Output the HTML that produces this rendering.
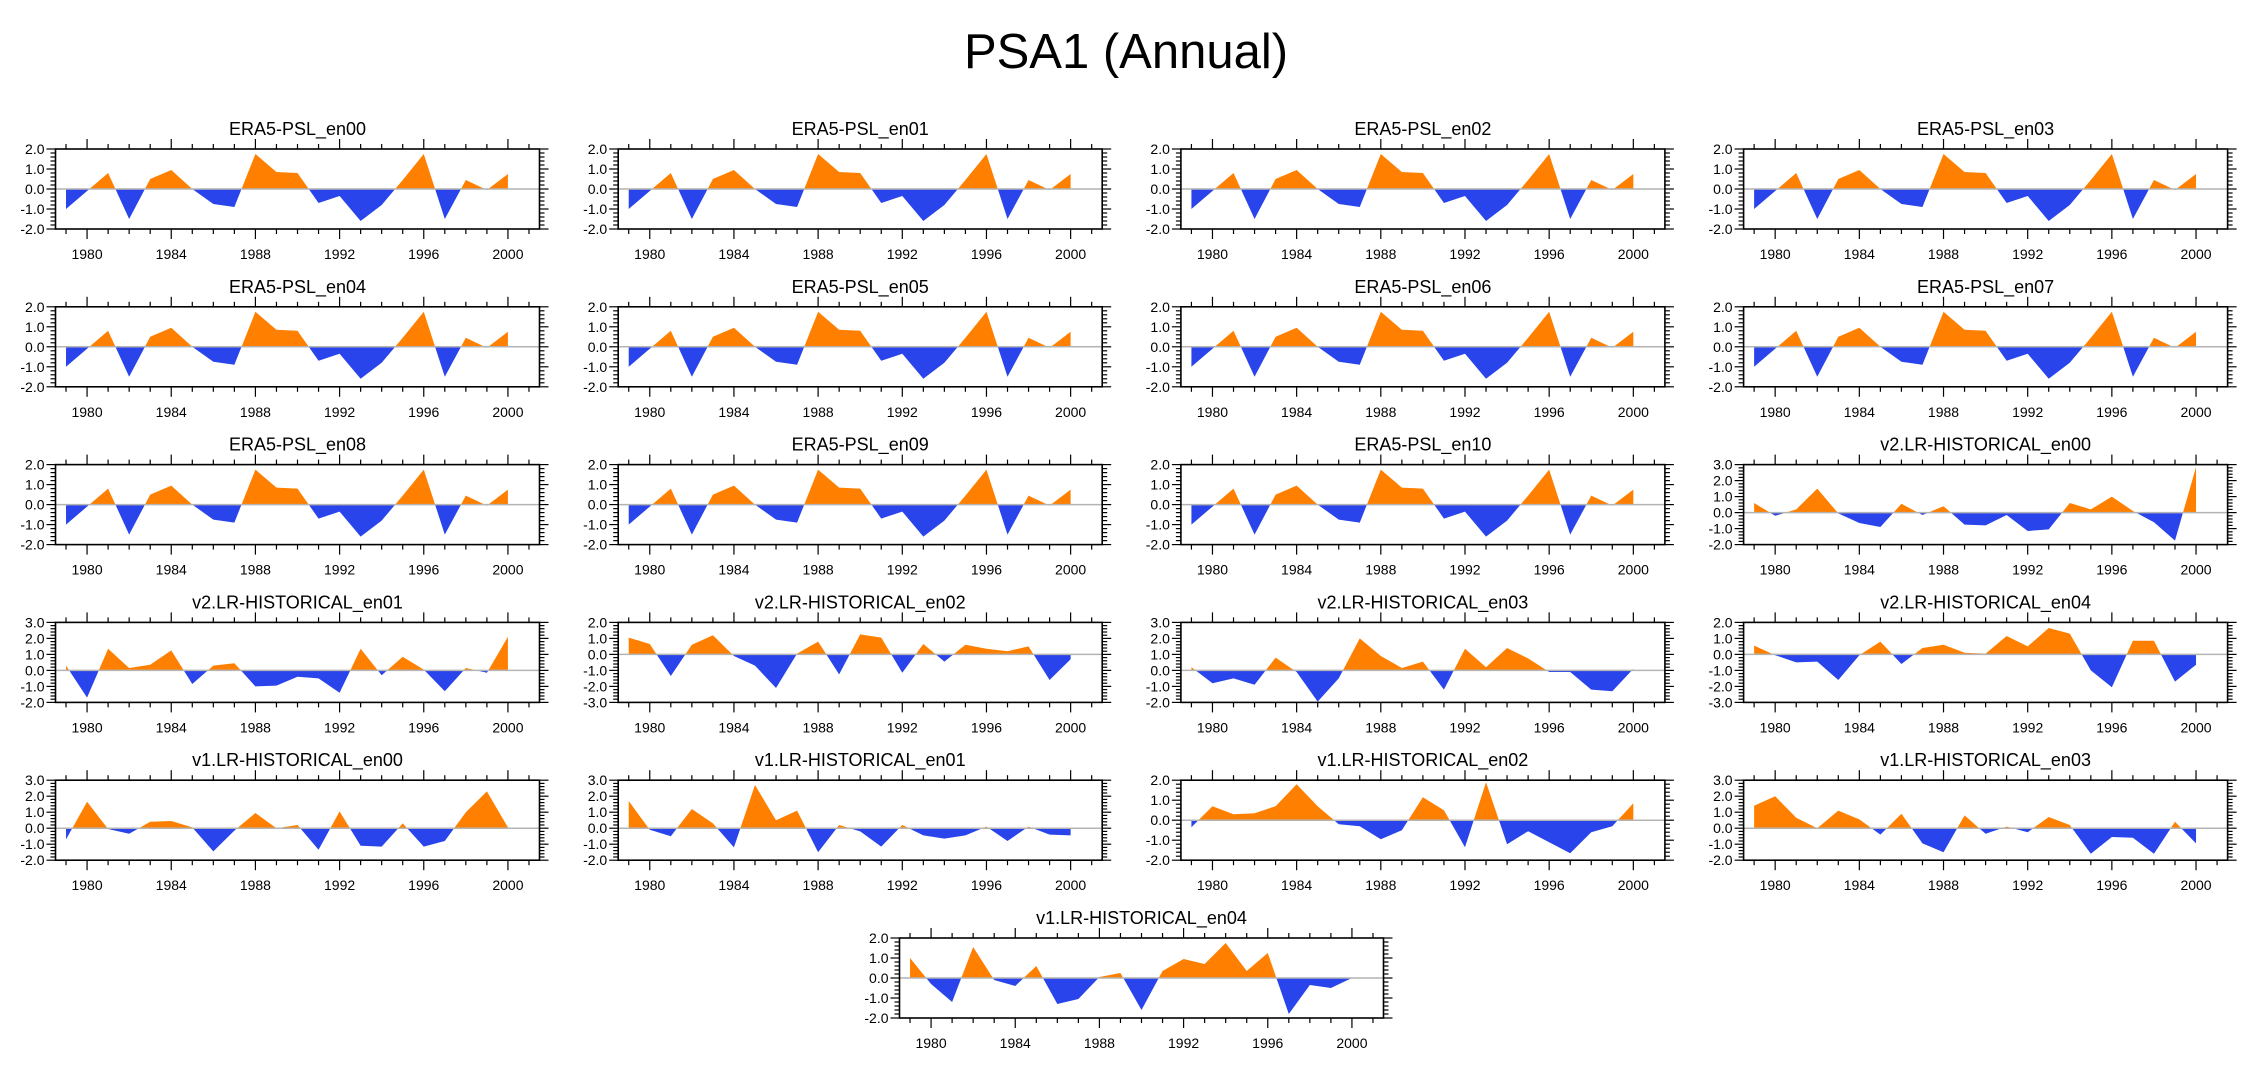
<!DOCTYPE html>
<html><head><meta charset="utf-8"><style>
html,body{margin:0;padding:0;background:#fff;}
svg{display:block;font-family:"Liberation Sans",Arial,sans-serif;}
</style></head><body>
<svg id="fig" width="2252" height="1078" viewBox="0 0 2252 1078">
<text x="1126" y="68" text-anchor="middle" font-size="49" fill="#000">PSA1 (Annual)</text>
</svg>
<script>
const years = [1979,1980,1981,1982,1983,1984,1985,1986,1987,1988,1989,1990,1991,1992,1993,1994,1995,1996,1997,1998,1999,2000];
const xTickLabels = ["1980","1984","1988","1992","1996","2000"];
const era5 = [-1.0,-0.1,0.8,-1.5,0.5,0.95,0.0,-0.75,-0.9,1.75,0.85,0.8,-0.7,-0.35,-1.6,-0.8,0.45,1.75,-1.5,0.45,-0.05,0.75];
const v2en00 = [0.6,-0.2,0.2,1.5,-0.05,-0.65,-0.9,0.55,-0.15,0.4,-0.75,-0.8,-0.15,-1.15,-1.05,0.6,0.2,1.0,0.1,-0.6,-1.75,2.85];
const v2en01 = [0.3,-1.7,1.35,0.15,0.35,1.25,-0.85,0.3,0.45,-1.0,-0.95,-0.4,-0.5,-1.4,1.35,-0.3,0.85,0.05,-1.3,0.15,-0.15,2.1];
const v2en02 = [1.05,0.65,-1.35,0.6,1.2,-0.1,-0.7,-2.1,0.05,0.8,-1.25,1.25,1.05,-1.15,0.65,-0.45,0.6,0.35,0.2,0.5,-1.6,-0.3];
const v2en03 = [0.2,-0.8,-0.5,-0.9,0.8,-0.1,-1.95,-0.5,2.0,0.9,0.15,0.55,-1.2,1.35,0.2,1.4,0.75,-0.1,-0.1,-1.2,-1.3,0.1];
const v2en04 = [0.55,-0.05,-0.5,-0.45,-1.6,-0.05,0.8,-0.6,0.4,0.6,0.1,0.05,1.15,0.5,1.65,1.3,-1.0,-2.05,0.85,0.85,-1.7,-0.65];
const v1en00 = [-0.7,1.65,-0.05,-0.35,0.4,0.45,0.05,-1.45,-0.15,0.95,0.0,0.2,-1.35,1.05,-1.1,-1.15,0.3,-1.15,-0.8,1.0,2.3,0.05];
const v1en01 = [1.7,-0.1,-0.5,1.2,0.3,-1.2,2.7,0.5,1.1,-1.5,0.2,-0.2,-1.15,0.2,-0.45,-0.65,-0.45,0.1,-0.8,0.1,-0.4,-0.45];
const v1en02 = [-0.35,0.7,0.3,0.35,0.7,1.8,0.7,-0.2,-0.3,-0.95,-0.5,1.15,0.5,-1.35,1.9,-1.2,-0.55,-1.1,-1.65,-0.6,-0.3,0.85];
const v1en03 = [1.4,2.0,0.65,0.0,1.1,0.55,-0.4,0.9,-0.95,-1.5,0.8,-0.35,0.1,-0.25,0.7,0.2,-1.6,-0.55,-0.6,-1.6,0.4,-0.95];
const v1en04 = [1.0,-0.3,-1.2,1.55,-0.1,-0.4,0.6,-1.3,-1.05,0.05,0.25,-1.6,0.35,0.95,0.7,1.75,0.35,1.25,-1.8,-0.35,-0.5,0.0];
const panelTitles = ["ERA5-PSL_en00","ERA5-PSL_en01","ERA5-PSL_en02","ERA5-PSL_en03","ERA5-PSL_en04","ERA5-PSL_en05","ERA5-PSL_en06","ERA5-PSL_en07","ERA5-PSL_en08","ERA5-PSL_en09","ERA5-PSL_en10","v2.LR-HISTORICAL_en00","v2.LR-HISTORICAL_en01","v2.LR-HISTORICAL_en02","v2.LR-HISTORICAL_en03","v2.LR-HISTORICAL_en04","v1.LR-HISTORICAL_en00","v1.LR-HISTORICAL_en01","v1.LR-HISTORICAL_en02","v1.LR-HISTORICAL_en03","v1.LR-HISTORICAL_en04"];
const panelSeries = [era5,era5,era5,era5,era5,era5,era5,era5,era5,era5,era5,v2en00,v2en01,v2en02,v2en03,v2en04,v1en00,v1en01,v1en02,v1en03,v1en04];
const yMins = [-2,-2,-2,-2,-2,-2,-2,-2,-2,-2,-2,-2,-2,-3,-2,-3,-2,-2,-2,-2,-2];
const yMaxs = [2,2,2,2,2,2,2,2,2,2,2,3,3,2,3,2,3,3,2,3,2];

const NS="http://www.w3.org/2000/svg";
const svg=document.getElementById('fig');
function mk(tag,attrs,parent){const e=document.createElementNS(NS,tag);for(const k in attrs)e.setAttribute(k,attrs[k]);(parent||svg).appendChild(e);return e;}
const W=484,H=80,X0=1978.5,X1=2001.5;

panelSeries.forEach((vals,i)=>{
  let r=Math.floor(i/4),c=i%4;
  let left=55.5+c*562.7, top=149+r*157.8;
  if(i===20){left=899.5;}
  const ymin=yMins[i],ymax=yMaxs[i];
  const xs=y=>left+(y-X0)/(X1-X0)*W;
  const ys=v=>top+(ymax-v)/(ymax-ymin)*H;
  const g=mk('g',{});
  
  
  const t=mk('text',{x:left+W/2,y:top-14,'text-anchor':'middle','font-size':18},g);
  t.textContent=panelTitles[i];
  
  
  const z=ys(0);
  const cidA='ca'+i,cidB='cb'+i;
  const defs=mk('defs',{},g);
  const ca=mk('clipPath',{id:cidA},defs);mk('rect',{x:left,y:top,width:W,height:z-top},ca);
  const cb=mk('clipPath',{id:cidB},defs);mk('rect',{x:left,y:z,width:W,height:top+H-z},cb);
  let d='M'+xs(years[0])+','+z;
  years.forEach((yr,k)=>{d+=' L'+xs(yr).toFixed(2)+','+ys(vals[k]).toFixed(2);});
  d+=' L'+xs(years[years.length-1])+','+z+' Z';
  const pa=mk('path',{d:d,fill:'#ff8000','clip-path':'url(#'+cidA+')'},g);
  
  
  const pb=mk('path',{d:d,fill:'#2a44ec','clip-path':'url(#'+cidB+')'},g);
  
  
  const zl=mk('line',{x1:left,x2:left+W,y1:z,y2:z,stroke:'#b4b4b4','stroke-width':1.5},g);
  
  
  // y ticks
  for(let v=ymin;v<=ymax+1e-6;v+=0.2){
    const vv=Math.round(v*10)/10, y=ys(vv), major=Math.abs(vv-Math.round(vv))<1e-6;
    const L=major?9:5;
    mk('line',{x1:left-L,x2:left,y1:y,y2:y,stroke:'#000','stroke-width':1.2},g);
    mk('line',{x1:left+W,x2:left+W+L,y1:y,y2:y,stroke:'#000','stroke-width':1.2},g);
    if(major){
      const lt=mk('text',{x:left-11,y:y+5,'text-anchor':'end','font-size':14},g);
      lt.textContent=vv.toFixed(1);
      
      
    }
  }
  // x ticks
  for(let yr=1979;yr<=2001;yr++){
    const x=xs(yr), major=(yr-1980)%4===0;
    const L=major?10:5;
    mk('line',{x1:x,x2:x,y1:top-L,y2:top,stroke:'#000','stroke-width':1.2},g);
    mk('line',{x1:x,x2:x,y1:top+H,y2:top+H+L,stroke:'#000','stroke-width':1.2},g);
  }
  xTickLabels.forEach(lb=>{
    const xt=mk('text',{x:xs(+lb),y:top+H+30,'text-anchor':'middle','font-size':14},g);
    xt.textContent=lb;
    
    
  });
  const box=mk('rect',{x:left,y:top,width:W,height:H,fill:'none',stroke:'#000','stroke-width':1.6},g);
  
  
});
</script>
</body></html>
